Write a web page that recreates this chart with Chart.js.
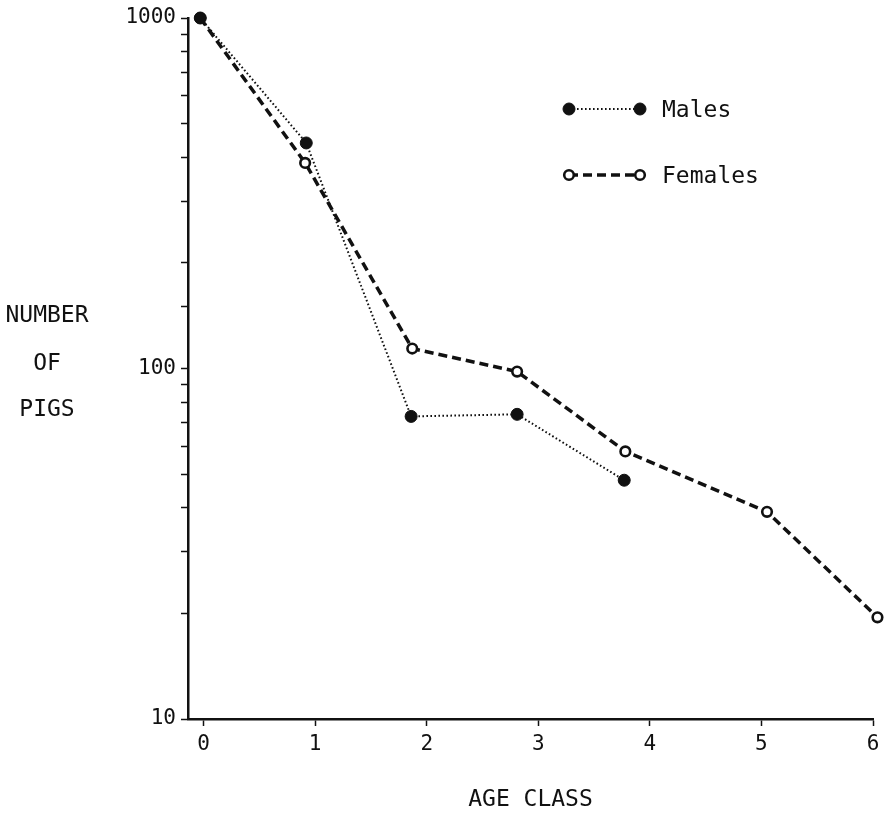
<!DOCTYPE html>
<html><head><meta charset="utf-8">
<script src="https://cdn.jsdelivr.net/npm/chart.js@4"></script>
<style>html,body{margin:0;padding:0;background:#fff}#wrap{width:891px;height:816px;position:relative}</style>
</head><body><div id="wrap"><canvas id="c"></canvas></div>
<script>
const ageTicks = [0, 1, 2, 3, 4, 5, 6];
const yTickLabels = [10, 100, 1000];
const maleX = [-0.03, 0.92, 1.86, 2.81, 3.77];
const maleY = [1000, 440, 73, 74, 48];
const femaleX = [-0.03, 0.91, 1.87, 2.81, 3.78, 5.05, 6.04];
const femaleY = [1000, 386, 114, 98, 58, 39, 19.5];
const seriesNames = ['Males', 'Females'];
const yTitleLines = ['NUMBER', 'OF', 'PIGS'];
const xTitle = 'AGE CLASS';

const FONT = "'DejaVu Sans Mono', monospace";
const INK = '#111';

const toPts = (xs, ys) => xs.map((x, i) => ({x: x, y: ys[i]}));

const yTitlePlugin = {
  id: 'yTitle',
  afterDraw(chart) {
    const ctx = chart.ctx;
    ctx.save();
    ctx.font = '23px ' + FONT;
    ctx.fillStyle = INK;
    ctx.textAlign = 'center';
    ctx.textBaseline = 'middle';
    const ys = [316, 364, 410];
    yTitleLines.forEach((t, i) => ctx.fillText(t, 47, ys[i]));
    ctx.restore();
  }
};

const legendPlugin = {
  id: 'pairLegend',
  afterDraw(chart) {
    const ctx = chart.ctx;
    const rows = [109, 175];
    chart.data.datasets.forEach((ds, i) => {
      const y = rows[i];
      const x1 = 569, x2 = 640;
      ctx.save();
      ctx.strokeStyle = INK;
      ctx.lineWidth = ds.borderWidth;
      ctx.setLineDash(ds.borderDash);
      ctx.beginPath(); ctx.moveTo(x1, y); ctx.lineTo(x2, y); ctx.stroke();
      ctx.setLineDash([]);
      [x1, x2].forEach(x => {
        ctx.beginPath();
        ctx.arc(x, y, ds.pointRadius, 0, Math.PI * 2);
        ctx.fillStyle = ds.pointBackgroundColor;
        ctx.fill();
        ctx.lineWidth = ds.pointBorderWidth;
        ctx.strokeStyle = INK;
        ctx.stroke();
      });
      ctx.font = '23px ' + FONT;
      ctx.fillStyle = INK;
      ctx.textAlign = 'left';
      ctx.textBaseline = 'middle';
      ctx.fillText(ds.label, 662, y + 2);
      ctx.restore();
    });
  }
};

new Chart(document.getElementById('c'), {
  type: 'scatter',
  data: {
    datasets: [
      {
        label: seriesNames[0],
        data: toPts(maleX, maleY),
        showLine: true,
        borderColor: INK,
        borderWidth: 2,
        borderDash: [1.6, 2.4],
        pointRadius: 6,
        pointBackgroundColor: INK,
        pointBorderColor: INK,
        pointBorderWidth: 1,
        clip: false
      },
      {
        label: seriesNames[1],
        data: toPts(femaleX, femaleY),
        showLine: true,
        borderColor: INK,
        borderWidth: 3.5,
        borderDash: [9, 5],
        pointRadius: 4.8,
        pointBackgroundColor: '#fff',
        pointBorderColor: INK,
        pointBorderWidth: 2.6,
        clip: false
      }
    ]
  },
  options: {
    responsive: true,
    maintainAspectRatio: false,
    animation: false,
    layout: {padding: {top: 18, right: 18, left: 0, bottom: 0}},
    plugins: {legend: {display: false}, tooltip: {enabled: false}},
    scales: {
      x: {
        type: 'linear',
        min: -0.14,
        max: 6,
        afterBuildTicks: s => { s.ticks = ageTicks.map(v => ({value: v})); },
        afterFit: s => { s.height = 97; },
        grid: {drawOnChartArea: false, drawTicks: true, tickLength: 7, color: INK, tickWidth: 1.5},
        border: {display: true, color: INK, width: 2.5},
        ticks: {
          autoSkip: false, maxRotation: 0, padding: 6, color: INK,
          font: {family: FONT, size: 21},
          callback: v => String(v)
        },
        title: {display: true, text: xTitle, color: INK, font: {family: FONT, size: 23}, padding: {top: 0, bottom: 2}}
      },
      y: {
        type: 'logarithmic',
        min: 10,
        max: 1000,
        afterFit: s => { s.width = 188; },
        grid: {drawOnChartArea: false, drawTicks: true, tickLength: 7, color: INK, tickWidth: 1.5},
        border: {display: true, color: INK, width: 2.5},
        ticks: {
          autoSkip: false, padding: 5, color: INK,
          font: {family: FONT, size: 21},
          callback: v => yTickLabels.includes(v) ? String(v) : ''
        }
      }
    }
  },
  plugins: [yTitlePlugin, legendPlugin]
});
</script>
</body></html>
